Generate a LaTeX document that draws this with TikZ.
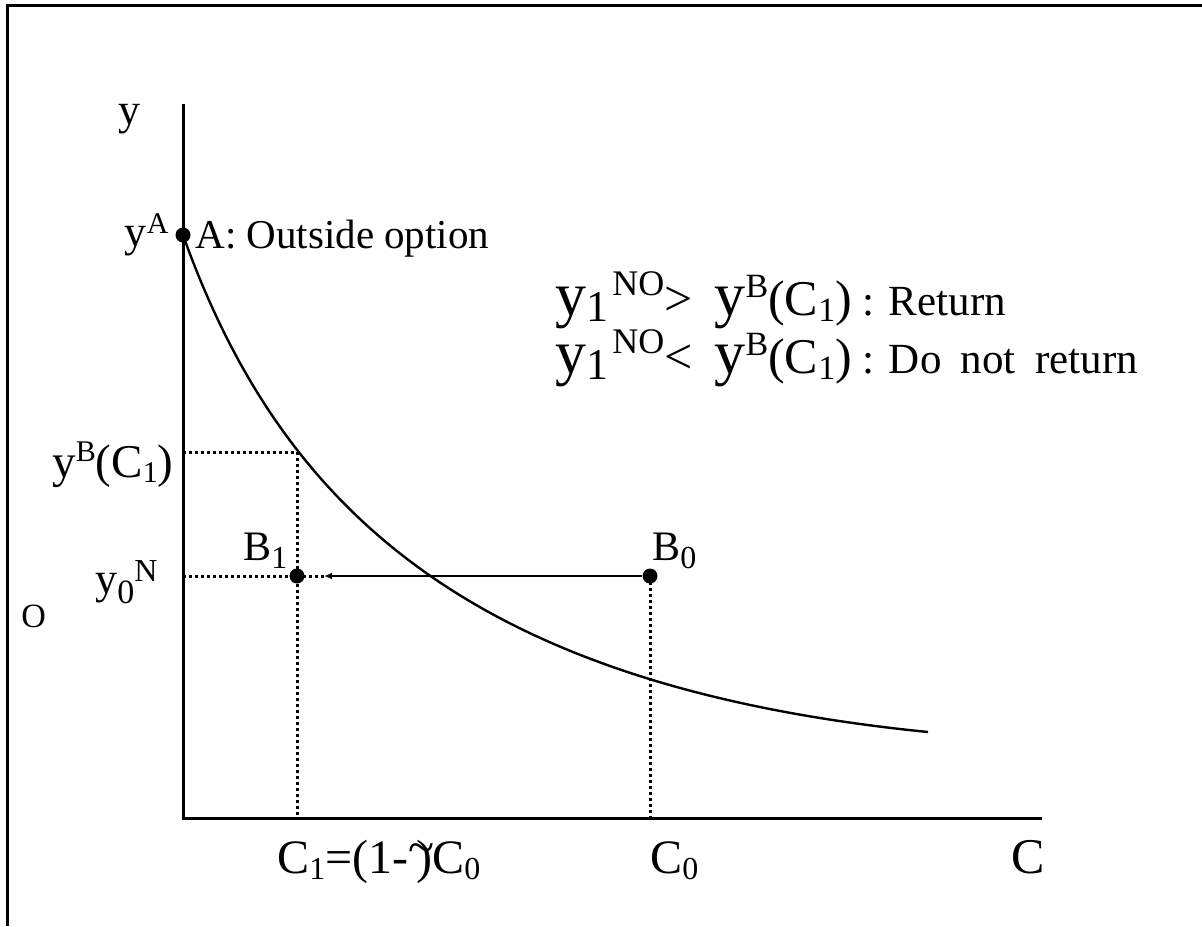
\documentclass[tikz,border=0pt]{standalone}
\usepackage{fontspec}
\setmainfont{Liberation Serif}
\usetikzlibrary{arrows.meta}
\newcommand\fs[1]{\fontsize{#1}{#1}\selectfont}
\tikzset{
  frame/.style={line width=1.5pt},
  axis/.style={line width=1.5pt},
  curve/.style={line width=1.2pt},
  dotline/.style={line width=1.5pt, dash pattern=on 1.5pt off 1.5pt},
  arrowline/.style={line width=1pt, -{Latex[length=4pt,width=3.5pt]}},
  dot/.style={circle, fill=black, inner sep=0pt, minimum size=7.5pt},
  lbl/.style={inner sep=0pt, anchor=base west},
  lble/.style={inner sep=0pt, anchor=base east}
}
\begin{document}
\begin{tikzpicture}[x=0.5pt,y=-0.5pt]
\useasboundingbox (0,0) rectangle (1202,926);
% frame
\coordinate (ftr) at (1202,5.5);
\coordinate (ftl) at (7.5,5.5);
\coordinate (fbl) at (7.5,926);
\draw[frame] (ftr) -- (ftl) -- (fbl);
% axes
\coordinate (O) at (183,818);
\coordinate (ytop) at (183,104);
\coordinate (xend) at (1042,818);
\draw[axis] (ytop) -- (O) -- (xend);
% points
\node[dot] (A) at (183,235) {};
\node[dot] (B1) at (297,576) {};
\node[dot] (B0) at (650,576) {};
\coordinate (cend) at (928,732);
\coordinate (y0) at (183,576);
\coordinate (aend) at (324,576);
\coordinate (yb) at (183,452);
\coordinate (cb) at (297,452);
\coordinate (c1) at (297,818);
\coordinate (c0) at (650,818);
% curve
\draw[curve] (A.center) .. controls (283,515) and (478,687) .. (cend);
% dotted guides
\draw[dotline] (yb) -- (cb) -- (c1);
\draw[dotline] (y0) -- (aend);
\draw[dotline] (B0.center) -- (c0);
% arrow
\draw[arrowline] (B0) -- (aend);
% labels
\node[lbl] (ly) at (118,124) {\fs{22pt}y};
\node[lble] (lyA) at (169,246) {\fs{22pt}y\raisebox{6.5pt}{\fs{15pt}A}};
\node[lbl] (lA) at (195,248) {\fs{20.5pt}A: Outside option};
\node[lble] (lyB) at (174,477) {\fs{23.5pt}y\raisebox{8pt}{\fs{15pt}B}(C\raisebox{-2.5pt}{\fs{15pt}1})};
\node[lble] (ly0) at (158,593) {\fs{22pt}y\raisebox{-5pt}{\fs{17pt}0}\raisebox{6pt}{\fs{16pt}N}};
\node[lbl] (lO) at (21,627) {\fs{17pt}O};
\node[lbl] (lB1) at (243,560) {\fs{21pt}B\raisebox{-4pt}{\fs{16pt}1}};
\node[lbl] (lB0) at (652,560) {\fs{21pt}B\raisebox{-4pt}{\fs{16pt}0}};
\node[lbl] (lC1) at (277,873) {\fs{24pt}C\raisebox{-3pt}{\fs{16pt}1}=(1-\raisebox{5pt}{\textasciitilde}\kern-9pt)C\raisebox{-3pt}{\fs{16pt}0}};
\node[lbl] (lC0) at (650,873) {\fs{24pt}C\raisebox{-3pt}{\fs{16pt}0}};
\node[lbl] (lC) at (1011,873) {\fs{25pt}C};
% conditions
\node[lbl] (r1) at (555,315) {\fs{31pt}y\raisebox{-3pt}{\fs{22pt}1}\kern2pt\raisebox{10pt}{\fs{18pt}NO}\fs{25pt}>\kern11pt\fs{31pt}y\raisebox{9pt}{\fs{17pt}B}\fs{25pt}(C\raisebox{-3pt}{\fs{17pt}1})\fs{21.5pt} : Return};
\node[lbl] (r2) at (555,373) {\fs{31pt}y\raisebox{-3pt}{\fs{22pt}1}\kern2pt\raisebox{10pt}{\fs{18pt}NO}\fs{25pt}<\kern11pt\fs{31pt}y\raisebox{9pt}{\fs{17pt}B}\fs{25pt}(C\raisebox{-3pt}{\fs{17pt}1})\fs{21.5pt} : Do\hspace{0.45em}not\hspace{0.45em}return};
\end{tikzpicture}
\end{document}
